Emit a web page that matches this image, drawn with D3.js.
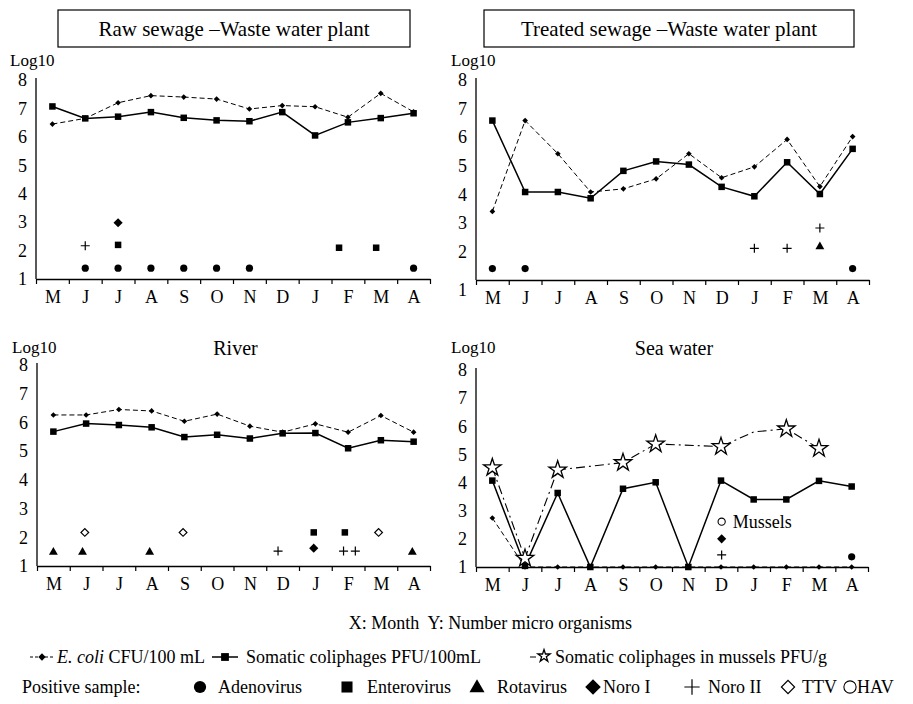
<!DOCTYPE html>
<html lang="en">

<head>
  <meta charset="UTF-8">
  <meta name="viewport" content="width=device-width, initial-scale=1.0">
  <title>Virus monitoring</title>
  <style>
    body { margin: 0; background: #fff; }
    svg, svg text { font-family: "Liberation Serif", "Times New Roman", serif; }
  </style>
</head>

<body>
  <svg id="svg" width="913" height="704"></svg>

  <script src="https://d3js.org/d3.v7.min.js"></script>
  <script>

    const months = ['M', 'J', 'J', 'A', 'S', 'O', 'N', 'D', 'J', 'F', 'M', 'A']
    const yTicks = [1, 2, 3, 4, 5, 6, 7, 8]

    // log10 values
    const rawEcoli = [6.45, 6.65, 7.2, 7.45, 7.4, 7.33, 6.98, 7.1, 7.06, 6.69, 7.53, 6.88]
    const rawSomatic = [7.07, 6.65, 6.71, 6.87, 6.67, 6.58, 6.55, 6.87, 6.05, 6.51, 6.66, 6.83]
    const treatedEcoli = [3.4, 6.58, 5.42, 4.08, 4.19, 4.54, 5.42, 4.58, 4.96, 5.92, 4.27, 6.02]
    const treatedSomatic = [6.58, 4.08, 4.08, 3.86, 4.82, 5.15, 5.04, 4.26, 3.93, 5.12, 4.01, 5.59]
    const riverEcoli = [6.26, 6.26, 6.45, 6.4, 6.04, 6.29, 5.87, 5.66, 5.95, 5.66, 6.24, 5.66]
    const riverSomatic = [5.68, 5.96, 5.91, 5.83, 5.49, 5.57, 5.44, 5.62, 5.63, 5.1, 5.38, 5.33]
    const seaEcoli = [2.74, 1, 1, 1, 1, 1, 1, 1, 1, 1, 1, 1]
    const seaSomatic = [4.07, 1.04, 3.63, 1, 3.78, 4.01, 1, 4.07, 3.4, 3.4, 4.06, 3.86]
    const seaMussels = [4.53, 1.31, 4.45, null, 4.71, 5.37, null, 5.28, 5.8, 5.91, 5.21, null]
    const seaMusselsNoMarker = [8]

    // positive samples: [month position, log10, virus]
    const rawPositive = [
      [1, 1.38, 'Adenovirus'], [2, 1.38, 'Adenovirus'], [3, 1.38, 'Adenovirus'], [4, 1.38, 'Adenovirus'],
      [5, 1.38, 'Adenovirus'], [6, 1.38, 'Adenovirus'], [11, 1.38, 'Adenovirus'],
      [1, 2.17, 'Noro II'], [2, 2.2, 'Enterovirus'], [8.73, 2.1, 'Enterovirus'], [9.86, 2.1, 'Enterovirus'],
      [2, 2.98, 'Noro I']
    ]
    const treatedPositive = [
      [0, 1.4, 'Adenovirus'], [1, 1.4, 'Adenovirus'], [11, 1.4, 'Adenovirus'],
      [8, 2.11, 'Noro II'], [9, 2.11, 'Noro II'], [10, 2.82, 'Noro II'],
      [10, 2.2, 'Rotavirus']
    ]
    const riverPositive = [
      [0, 1.52, 'Rotavirus'], [0.89, 1.52, 'Rotavirus'], [2.94, 1.52, 'Rotavirus'], [10.96, 1.52, 'Rotavirus'],
      [0.96, 2.17, 'TTV'], [3.96, 2.17, 'TTV'], [9.93, 2.17, 'TTV'],
      [7.95, 2.17, 'Enterovirus'], [8.9, 2.17, 'Enterovirus'],
      [6.86, 1.52, 'Noro II'], [8.86, 1.52, 'Noro II'], [9.22, 1.52, 'Noro II'],
      [7.95, 1.62, 'Noro I']
    ]
    const seaPositive = [
      [11, 1.36, 'Adenovirus'], [7.02, 2.61, 'HAV'], [7.02, 2.0, 'Noro I'], [7.02, 1.43, 'Noro II']
    ]

    const legendViruses = ['Adenovirus', 'Enterovirus', 'Rotavirus', 'Noro I', 'Noro II', 'TTV', 'HAV']

    const serif = '"Liberation Serif", "Times New Roman", serif'

    const panels = [
      { title: 'Raw sewage \u2013Waste water plant', box: [58, 10, 352, 37], x0: 36, x1: 430, yTop: 80, yBot: 279, logX: 10, logY: 66,
        ecoli: rawEcoli, somatic: rawSomatic, positive: rawPositive },
      { title: 'Treated sewage \u2013Waste water plant', box: [484, 10, 370, 37], x0: 476, x1: 869, yTop: 80, yBot: 280, logX: 451, logY: 66,
        ecoli: treatedEcoli, somatic: treatedSomatic, positive: treatedPositive, oneShift: 10 },
      { title: 'River', x0: 37, x1: 430, yTop: 365, yBot: 566, logX: 12, logY: 353, titleY: 355,
        ecoli: riverEcoli, somatic: riverSomatic, positive: riverPositive },
      { title: 'Sea water', x0: 476, x1: 868, yTop: 370, yBot: 567, logX: 451, logY: 353, titleY: 355,
        ecoli: seaEcoli, somatic: seaSomatic, positive: seaPositive, mussels: seaMussels }
    ]

    const svg = d3.select('#svg')

    function drawMarker(g, type, x, y, k = 1) {
      if (type === 'Adenovirus') {
        g.append('circle').attr('cx', x).attr('cy', y).attr('r', 3.6 * k).attr('fill', '#000')
      } else if (type === 'HAV') {
        g.append('circle').attr('cx', x).attr('cy', y).attr('r', 3.6 * k)
          .attr('fill', '#fff').attr('stroke', '#000').attr('stroke-width', 1.1)
      } else if (type === 'Enterovirus' || type === 'somatic') {
        const s = 6.5 * k
        g.append('rect').attr('x', x - s / 2).attr('y', y - s / 2).attr('width', s).attr('height', s).attr('fill', '#000')
      } else if (type === 'Rotavirus') {
        g.append('path').attr('d', d3.symbol(d3.symbolTriangle, 34 * k * k)())
          .attr('transform', `translate(${x},${y + 1})`).attr('fill', '#000')
      } else if (type === 'Noro I' || type === 'ecoli') {
        const size = type === 'ecoli' ? 16 * k * k : 42 * k * k
        g.append('path').attr('d', d3.symbol(d3.symbolSquare, size)())
          .attr('transform', `translate(${x},${y}) rotate(45)`).attr('fill', '#000')
      } else if (type === 'TTV') {
        g.append('path').attr('d', d3.symbol(d3.symbolSquare, 30 * k * k)())
          .attr('transform', `translate(${x},${y}) rotate(45)`)
          .attr('fill', '#fff').attr('stroke', '#000').attr('stroke-width', 1.2)
      } else if (type === 'Noro II') {
        const h = 4.5 * k
        g.append('path').attr('d', `M${x - h},${y}H${x + h}M${x},${y - h}V${y + h}`)
          .attr('stroke', '#000').attr('stroke-width', 1.2).attr('fill', 'none')
      } else if (type === 'star') {
        g.append('path').attr('d', d3.symbol(d3.symbolStar, 95 * k * k)())
          .attr('transform', `translate(${x},${y})`)
          .attr('fill', '#fff').attr('stroke', '#000').attr('stroke-width', 1.3)
      }
    }

    panels.forEach(p => {
      const g = svg.append('g')

      const x = d3.scaleLinear().domain([-0.5, 11.5]).range([p.x0, p.x1])
      const y = d3.scaleLinear().domain([1, 8]).range([p.yBot, p.yTop])

      // titles
      if (p.box) {
        g.append('rect').attr('x', p.box[0]).attr('y', p.box[1]).attr('width', p.box[2]).attr('height', p.box[3])
          .attr('fill', 'none').attr('stroke', '#000').attr('stroke-width', 1.2)
        g.append('text').attr('x', p.box[0] + p.box[2] / 2).attr('y', p.box[1] + 26)
          .attr('text-anchor', 'middle').attr('font-size', 21).text(p.title)
      } else {
        g.append('text').attr('x', (p.x0 + p.x1) / 2 + 2).attr('y', p.titleY)
          .attr('text-anchor', 'middle').attr('font-size', 20).text(p.title)
      }
      g.append('text').attr('x', p.logX).attr('y', p.logY).attr('font-size', 17).text('Log10')

      // y axis
      const yAxis = g.append('g').attr('transform', `translate(${p.x0},0)`)
        .call(d3.axisLeft(y).tickValues(yTicks).tickFormat(d3.format('d')).tickSize(0).tickPadding(9))
        .attr('font-family', serif).attr('font-size', 18)
      yAxis.selectAll('text').attr('font-family', serif)
      yAxis.select('.domain').attr('d', `M0,${p.yTop - 2}V${p.yBot}`).attr('stroke-width', 1.3)
      if (p.oneShift) yAxis.selectAll('.tick').filter(d => d === 1).select('text').attr('dy', `${0.32 + p.oneShift / 18}em`)

      // x axis: tick marks at month boundaries, labels at month centres
      const xAxis = g.append('g').attr('transform', `translate(0,${p.yBot})`)
        .call(d3.axisBottom(x).tickValues(d3.range(-0.5, 12, 1)).tickFormat('').tickSize(5).tickSizeOuter(0))
      xAxis.select('.domain').attr('stroke-width', 1.3)
      xAxis.selectAll('line').attr('stroke-width', 1.2)
      const xLab = g.append('g').attr('transform', `translate(0,${p.yBot})`)
        .call(d3.axisBottom(x).tickValues(d3.range(12)).tickFormat(i => months[i]).tickSize(0).tickPadding(11))
        .attr('font-family', serif).attr('font-size', 18)
      xLab.selectAll('text').attr('font-family', serif)
      xLab.select('.domain').remove()

      // series
      const line = d3.line().x(d => x(d[0])).y(d => y(d[1]))
      const ecoliPts = p.ecoli.map((v, i) => [i, v])
      const somPts = p.somatic.map((v, i) => [i, v])

      if (p.mussels) {
        const musPts = p.mussels.map((v, i) => [i, v]).filter(d => d[1] !== null)
        g.append('path').attr('d', line(musPts)).attr('fill', 'none').attr('stroke', '#000')
          .attr('stroke-width', 1.1).attr('stroke-dasharray', '9,4,2,4')
      }

      g.append('path').attr('d', line(somPts)).attr('fill', 'none').attr('stroke', '#000').attr('stroke-width', 1.5)
      g.append('path').attr('d', line(ecoliPts)).attr('fill', 'none').attr('stroke', '#000')
        .attr('stroke-width', 1).attr('stroke-dasharray', '5,3')

      somPts.forEach(d => drawMarker(g, 'somatic', x(d[0]), y(d[1])))
      ecoliPts.forEach(d => drawMarker(g, 'ecoli', x(d[0]), y(d[1])))

      if (p.mussels) {
        p.mussels.forEach((v, i) => {
          if (v !== null && !seaMusselsNoMarker.includes(i)) drawMarker(g, 'star', x(i), y(v))
        })
      }

      // positive samples
      p.positive.forEach(d => drawMarker(g, d[2], x(d[0]), y(d[1])))
      if (p.mussels) {
        const hav = p.positive.find(d => d[2] === 'HAV')
        g.append('text').attr('x', x(hav[0]) + 11).attr('y', y(hav[1]) + 6).attr('font-size', 18).text('Mussels')
      }
    })

    // axis captions
    svg.append('text').attr('x', 632).attr('y', 629).attr('text-anchor', 'end')
      .attr('font-size', 18).style('white-space', 'pre').text('X: Month  Y: Number micro organisms')

    // legend row 1: series
    const leg = svg.append('g')
    leg.append('path').attr('d', 'M30,657H55').attr('stroke', '#000').attr('stroke-dasharray', '3,2')
    drawMarker(leg, 'ecoli', 42, 657, 1.3)
    leg.append('text').attr('x', 57).attr('y', 663).attr('font-size', 18)
      .call(t => {
        t.append('tspan').attr('font-style', 'italic').text('E. coli')
        t.append('tspan').text(' CFU/100 mL')
      })
    leg.append('path').attr('d', 'M212,657H238').attr('stroke', '#000').attr('stroke-width', 1.5)
    drawMarker(leg, 'somatic', 225, 657, 1.2)
    leg.append('text').attr('x', 246).attr('y', 663).attr('font-size', 18).text('Somatic coliphages PFU/100mL')
    leg.append('path').attr('d', 'M530,657H536').attr('stroke', '#000')
    drawMarker(leg, 'star', 544, 656, 0.7)
    leg.append('text').attr('x', 555).attr('y', 663).attr('font-size', 18).text('Somatic coliphages in mussels PFU/g')

    // legend row 2: positive samples
    leg.append('text').attr('x', 22).attr('y', 693).attr('font-size', 18).text('Positive sample:')
    const legX = [200, 347, 477, 593, 692, 788, 850]
    const legTextX = [218, 367, 497, 603, 708, 802, 857]
    legendViruses.forEach((v, i) => {
      drawMarker(leg, v, legX[i], 687, 1.7)
      leg.append('text').attr('x', legTextX[i]).attr('y', 693).attr('font-size', 18).text(v)
    })

  </script>
</body>

</html>
